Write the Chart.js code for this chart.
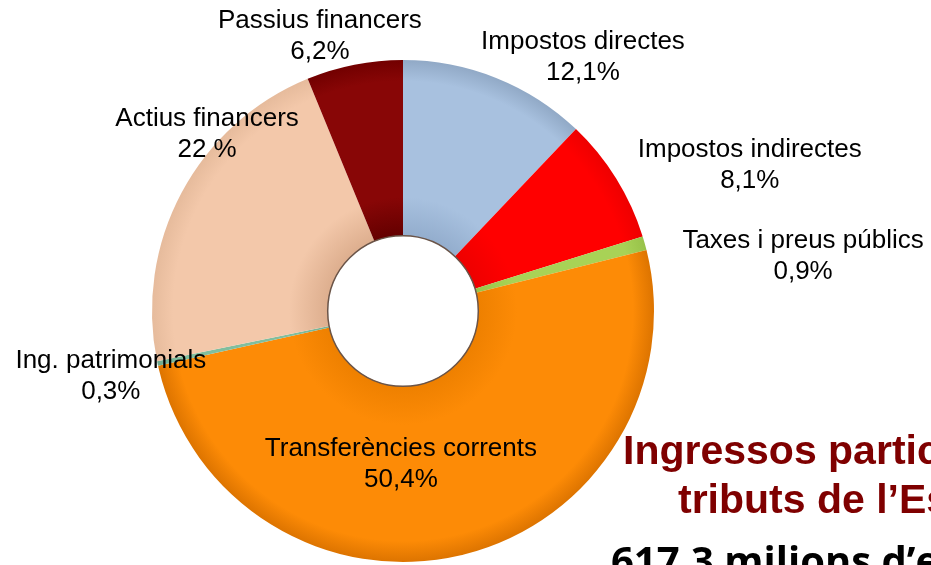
<!DOCTYPE html>
<html>
<head>
<meta charset="utf-8">
<script src="https://cdn.jsdelivr.net/npm/chart.js@4.4.1/dist/chart.umd.min.js"></script>
<style>
  html, body { margin: 0; padding: 0; background: #ffffff; }
  #wrap { width: 931px; height: 565px; position: relative; }
</style>
</head>
<body>
<div id="wrap"><canvas id="c" width="931" height="565"></canvas></div>
<script>
// ---- Data ----
const categories = ['Impostos directes', 'Impostos indirectes', 'Taxes i preus públics',
  'Transferències corrents', 'Ing. patrimonials', 'Actius financers', 'Passius financers'];
const shares = [12.1, 8.1, 0.9, 50.4, 0.3, 22, 6.2];
const shareText = ['12,1%', '8,1%', '0,9%', '50,4%', '0,3%', '22 %', '6,2%'];
const titleLines = ['Ingressos participació en', 'tributs de l\u2019Estat'];
const subtitle = '617,3 milions d\u2019euros';

// ---- Styles ----
// [inner, main, outer edge] per slice
const sliceColors = [
  ['#93adcd', '#a8c1df', '#91a9c6'],
  ['#ee0000', '#ff0000', '#ee0000'],
  ['#98c44a', '#a8d256', '#98c24a'],
  ['#ee8000', '#fd8b06', '#dd7400'],
  ['#74b294', '#80be9e', '#70aa8e'],
  ['#ddae8e', '#f3c8aa', '#e6bb9c'],
  ['#640000', '#880606', '#720000']
];
// label placement: angle (deg clockwise from 12 o'clock) and distance (x outer radius)
const labelAngle = [35.1, 66.9, 81.9, 180.8, 257.8, 312.4, 343.3];
const labelDist  = [1.247, 1.502, 1.610, 0.602, 1.191, 1.057, 1.152];

const CUT = 0.30;

function sliceBg(ctx) {
  const chart = ctx.chart;
  const ca = chart.chartArea;
  const cols = sliceColors[ctx.dataIndex] || ['#999', '#999', '#999'];
  if (!ca) return cols[1];
  const cx = (ca.left + ca.right) / 2, cy = (ca.top + ca.bottom) / 2;
  const R = Math.min(ca.right - ca.left, ca.bottom - ca.top) / 2;
  const g = chart.ctx.createRadialGradient(cx, cy, R * CUT, cx, cy, R);
  g.addColorStop(0, cols[0]);
  g.addColorStop(0.22, cols[1]);
  g.addColorStop(0.88, cols[1]);
  g.addColorStop(1, cols[2]);
  return g;
}

const labelPlugin = {
  id: 'sliceLabels',
  afterDatasetsDraw(chart) {
    const meta = chart.getDatasetMeta(0);
    const ctx = chart.ctx;
    const a0 = meta.data[0];
    if (!a0) return;
    const cx = a0.x, cy = a0.y, R = a0.outerRadius, r = a0.innerRadius;
    // hole outline
    ctx.save();
    ctx.beginPath();
    ctx.arc(cx, cy, r, 0, Math.PI * 2);
    ctx.lineWidth = 1.5;
    ctx.strokeStyle = '#6a5448';
    ctx.stroke();
    ctx.restore();

    ctx.save();
    ctx.font = '26px "Liberation Sans", Arial, sans-serif';
    ctx.fillStyle = '#000000';
    ctx.textAlign = 'center';
    ctx.textBaseline = 'middle';
    const lh = 31;
    meta.data.forEach((arc, i) => {
      const th = labelAngle[i] * Math.PI / 180;
      const d = labelDist[i] * R;
      const x = cx + d * Math.sin(th);
      const y = cy - d * Math.cos(th);
      ctx.fillText(categories[i], x, y - lh / 2 + 2);
      ctx.fillText(shareText[i], x, y + lh / 2 + 2);
    });
    ctx.restore();

    // title block
    ctx.save();
    ctx.textAlign = 'left';
    ctx.textBaseline = 'alphabetic';
    ctx.fillStyle = '#7f0000';
    ctx.font = 'bold 41px "Liberation Sans", Arial, sans-serif';
    ctx.fillText(titleLines[0], 623, 464);
    ctx.fillText(titleLines[1], 678, 513);
    ctx.fillStyle = '#000000';
    ctx.font = 'bold 40px "Open Sans", "Liberation Sans", sans-serif';
    ctx.fillText(subtitle, 611, 575);
    ctx.restore();
  }
};

new Chart(document.getElementById('c'), {
  type: 'doughnut',
  data: {
    labels: categories,
    datasets: [{
      data: shares,
      backgroundColor: sliceBg,
      borderWidth: 0,
      hoverOffset: 0
    }]
  },
  options: {
    responsive: false,
    animation: false,
    cutout: '30%',
    rotation: 0,
    layout: { padding: { left: 152, right: 277, top: 60, bottom: 3 } },
    plugins: {
      legend: { display: false },
      tooltip: { enabled: false },
      title: { display: false }
    },
    events: []
  },
  plugins: [labelPlugin]
});
</script>
</body>
</html>
